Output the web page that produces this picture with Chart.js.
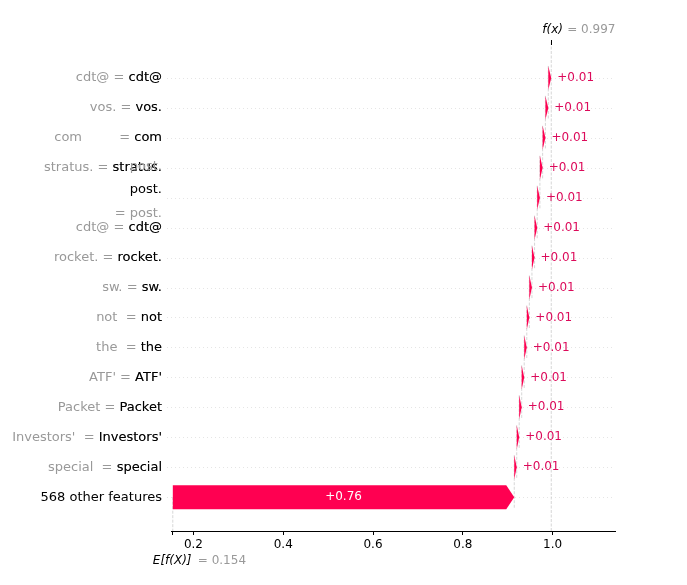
<!DOCTYPE html>
<html>
<head>
<meta charset="utf-8">
<script src="https://cdn.jsdelivr.net/npm/chart.js@4/dist/chart.umd.min.js"></script>
<style>
  html, body { margin: 0; padding: 0; background: #fff; }
</style>
</head>
<body>
<canvas id="waterfall" width="687" height="585"></canvas>
<script>
// rows, top to bottom
const FEATURE_NAMES = ["cdt@", "vos.", "com", "stratus.", "post.\n", "cdt@", "rocket.", "sw.", "not", "the",
                       "ATF'", "Packet", "Investors'", "special", "568 other features"];
const FEATURE_VALUES = ["cdt@", "vos.", "com        ", "stratus.", "post.\n\n\n", "cdt@", "rocket.", "sw.", "not ", "the ",
                        "ATF'", "Packet", "Investors' ", "special ", null];
const SHAP_VALUES = [0.0066, 0.0064, 0.0062, 0.0061, 0.0060, 0.0059, 0.0058, 0.0058, 0.0057, 0.0057,
                     0.0056, 0.0056, 0.0055, 0.0055, 0.7606];
const BASE_VALUE = 0.154;
const FX_VALUE = 0.997;
const X_TICKS = [0.2, 0.4, 0.6, 0.8, 1.0];

const RED = '#ff0051';
const RED_TEXT = '#dc0a5a';
const GRAY = '#999999';
const FONT = '"DejaVu Sans", Verdana, sans-serif';

// each bar starts where the one below it ends
const starts = new Array(SHAP_VALUES.length);
let acc = BASE_VALUE;
for (let i = SHAP_VALUES.length - 1; i >= 0; i--) {
  starts[i] = acc;
  acc += SHAP_VALUES[i];
}
const bars = SHAP_VALUES.map((v, i) => ({ x: [starts[i], starts[i] + v], y: i }));

const waterfallPlugin = {
  id: 'waterfall',
  beforeDatasetsDraw(chart) {
    const { ctx, chartArea, scales: { x, y } } = chart;
    ctx.save();
    // faint row lines
    ctx.strokeStyle = '#d4d4d4';
    ctx.lineWidth = 0.6;
    ctx.setLineDash([1, 3]);
    FEATURE_NAMES.forEach((n, i) => {
      const py = Math.round(y.getPixelForValue(i)) + 0.5;
      ctx.beginPath();
      ctx.moveTo(chartArea.left - 4, py);
      ctx.lineTo(chartArea.right, py);
      ctx.stroke();
    });
    // f(x) line, base line, connectors
    ctx.strokeStyle = '#c4c4c4';
    ctx.lineWidth = 0.7;
    ctx.setLineDash([3, 1.5]);
    const fxPx = x.getPixelForValue(FX_VALUE);
    ctx.beginPath();
    ctx.moveTo(fxPx, chartArea.top);
    ctx.lineTo(fxPx, chartArea.bottom);
    ctx.stroke();
    const basePx = x.getPixelForValue(BASE_VALUE);
    ctx.beginPath();
    ctx.moveTo(basePx, y.getPixelForValue(SHAP_VALUES.length - 1));
    ctx.lineTo(basePx, chartArea.bottom);
    ctx.stroke();
    for (let i = 0; i < SHAP_VALUES.length - 1; i++) {
      const px = x.getPixelForValue(starts[i]);
      ctx.beginPath();
      ctx.moveTo(px, y.getPixelForValue(i - 0.4));
      ctx.lineTo(px, y.getPixelForValue(i + 1.4));
      ctx.stroke();
    }
    ctx.restore();
  },
  afterDatasetsDraw(chart) {
    const { ctx, chartArea, scales: { x, y } } = chart;
    const meta = chart.getDatasetMeta(0);
    ctx.save();
    ctx.font = '12px ' + FONT;
    meta.data.forEach((bar, i) => {
      const p = bar.getProps(['x', 'base', 'y', 'height'], true);
      const half = p.height / 2;
      const len = p.x - p.base;
      const head = Math.min(len, 8);
      ctx.fillStyle = RED;
      ctx.beginPath();
      ctx.moveTo(p.base, p.y - half);
      ctx.lineTo(p.x - head, p.y - half);
      ctx.lineTo(p.x, p.y);
      ctx.lineTo(p.x - head, p.y + half);
      ctx.lineTo(p.base, p.y + half);
      ctx.closePath();
      ctx.fill();

      const txt = (SHAP_VALUES[i] >= 0 ? '+' : '') + SHAP_VALUES[i].toFixed(2);
      const w = ctx.measureText(txt).width;
      ctx.textBaseline = 'middle';
      if (len - head > w + 10) {
        ctx.fillStyle = '#ffffff';
        ctx.textAlign = 'center';
        ctx.fillText(txt, (p.base + p.x) / 2, p.y);
      } else {
        ctx.fillStyle = RED_TEXT;
        ctx.textAlign = 'left';
        ctx.fillText(txt, p.x + 6, p.y);
      }
    });

    // feature labels: gray "value = name", black name on top
    const lineGap = 15.5;
    const lx = chartArea.left - 9;
    ctx.font = '13px ' + FONT;
    ctx.textAlign = 'right';
    ctx.textBaseline = 'middle';
    const drawLines = (text, cy, color) => {
      const lines = text.split('\n');
      const top = cy - (lines.length - 1) * lineGap / 2;
      ctx.fillStyle = color;
      lines.forEach((ln, k) => ctx.fillText(ln, lx, top + k * lineGap));
    };
    FEATURE_NAMES.forEach((name, i) => {
      const cy = y.getPixelForValue(i);
      if (FEATURE_VALUES[i] !== null) drawLines(FEATURE_VALUES[i] + ' = ' + name, cy, GRAY);
      drawLines(name, cy, '#000000');
    });

    // f(x) on top, E[f(X)] under the axis
    const fxPx = x.getPixelForValue(FX_VALUE);
    const basePx = x.getPixelForValue(BASE_VALUE);
    ctx.strokeStyle = '#000';
    ctx.lineWidth = 1;
    ctx.beginPath();
    ctx.moveTo(Math.round(fxPx) + 0.5, chartArea.top - 2);
    ctx.lineTo(Math.round(fxPx) + 0.5, chartArea.top + 3);
    ctx.stroke();
    ctx.textAlign = 'left';
    ctx.font = 'italic 12px ' + FONT;
    ctx.fillStyle = '#000';
    ctx.fillText('f(x)', fxPx - 9, chartArea.top - 12);
    ctx.fillText('E[f(X)]', basePx - 20, chartArea.bottom + 30);
    ctx.font = '12px ' + FONT;
    ctx.fillStyle = GRAY;
    ctx.fillText('= ' + FX_VALUE.toFixed(3), fxPx + 16, chartArea.top - 12);
    ctx.fillText('= ' + BASE_VALUE.toFixed(3), basePx + 25, chartArea.bottom + 30);
    ctx.restore();
  }
};

new Chart(document.getElementById('waterfall'), {
  type: 'bar',
  data: {
    datasets: [{
      data: bars,
      backgroundColor: 'rgba(0,0,0,0)',
      borderWidth: 0,
      barPercentage: 0.8,
      categoryPercentage: 1
    }]
  },
  options: {
    indexAxis: 'y',
    responsive: false,
    animation: false,
    devicePixelRatio: 1,
    layout: { padding: { left: 171, right: 72, top: 42, bottom: 0 } },
    plugins: { legend: { display: false }, tooltip: { enabled: false } },
    scales: {
      x: {
        type: 'linear',
        min: 0.15,
        max: 1.139,
        afterFit(scale) { scale.height = 54; },
        afterBuildTicks(scale) {
          scale.ticks = [BASE_VALUE].concat(X_TICKS).map(v => ({ value: v }));
        },
        ticks: {
          autoSkip: false,
          maxRotation: 0,
          padding: 3,
          color: '#000',
          font: { family: FONT, size: 12 },
          callback: (v) => X_TICKS.includes(v) ? v.toFixed(1) : ''
        },
        grid: { drawOnChartArea: false, drawTicks: true, tickLength: 4, color: '#000' },
        border: { display: true, color: '#000', width: 1 }
      },
      y: {
        type: 'linear',
        reverse: true,
        offset: false,
        grid: { offset: false },
        min: -1.2,
        max: 15.13,
        display: false
      }
    }
  },
  plugins: [waterfallPlugin]
});
</script>
</body>
</html>
